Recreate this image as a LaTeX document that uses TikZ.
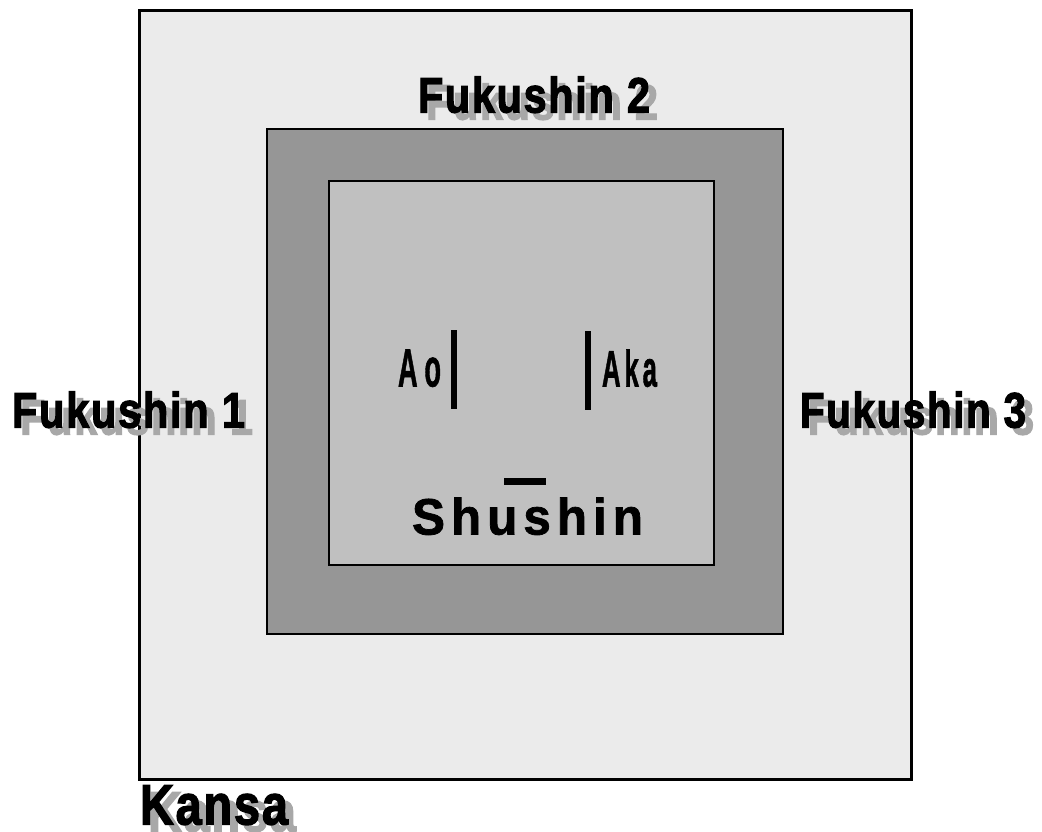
\documentclass[tikz,border=0pt]{standalone}
\usepackage{fontspec}
\setmainfont{Liberation Sans}
\newfontfamily\heavy{Liberation Sans Bold}[FakeBold=2.5,LetterSpace=4]
\newfontfamily\heavyplain{Liberation Sans Bold}[FakeBold=1.5]
\usepackage{graphicx}
\definecolor{outerfill}{HTML}{EBEBEB}
\definecolor{midfill}{HTML}{969696}
\definecolor{innerfill}{HTML}{C0C0C0}
\definecolor{shadowgray}{HTML}{A8A8A8}
\tikzset{
  lbl/.style={inner sep=0pt, outer sep=0pt, anchor=south west},
  shd/.style={lbl, text=shadowgray},
  bar/.style={line width=6pt},
}
\newcommand{\fittext}[3]{\resizebox{#1pt}{#2pt}{\heavy #3}}
\newcommand{\fitplain}[3]{\resizebox{#1pt}{#2pt}{\heavyplain #3}}
\begin{document}
\begin{tikzpicture}[x=1pt,y=-1pt]
\useasboundingbox (0,0) rectangle (1042,831);
\fill[white] (0,0) rectangle (1042,831);
% boxes
\draw[line width=3pt, fill=outerfill] (139,10) rectangle (911,779);
\draw[line width=2.5pt, fill=midfill] (267,129) rectangle (783,634);
\draw[line width=1.3pt, fill=innerfill] (329,181) rectangle (714,565);
% Fukushin 2
\node[shd] (f2s) at (426,120) {\fittext{232}{36}{Fukushin 2}};
\node[lbl] (f2) at (418,113) {\fittext{232}{36}{Fukushin 2}};
% Fukushin 1
\node[shd] (f1s) at (20,435) {\fittext{233}{36}{Fukushin 1}};
\node[lbl] (f1) at (12,428) {\fittext{233}{36}{Fukushin 1}};
% Fukushin 3
\node[shd] (f3s) at (808,435) {\fittext{226}{36}{Fukushin 3}};
\node[lbl] (f3) at (800,428) {\fittext{226}{36}{Fukushin 3}};
% Kansa
\node[shd] (ks) at (148,832) {\fittext{148}{39}{Kansa}};
\node[lbl] (k) at (140,825) {\fittext{148}{39}{Kansa}};
% Ao / Aka
\node[lbl] (ao) at (398,387) {\fitplain{43}{37}{A\hspace{0.25em}o}};
\node[lbl] (aka) at (602,387) {\fitplain{55}{37}{A\hspace{0.15em}k\hspace{0.15em}a}};
\coordinate (aoT) at (454,330);
\coordinate (aoB) at (454,409);
\coordinate (akT) at (588,331);
\coordinate (akB) at (588,410);
\draw[bar] (aoT) -- (aoB);
\draw[bar] (akT) -- (akB);
% Shushin
\coordinate (sbL) at (504,481);
\coordinate (sbR) at (546,481);
\draw[line width=7pt] (sbL) -- (sbR);
\node[lbl] (sh) at (412,535) {\fitplain{231}{37}{S\hspace{0.12em}h\hspace{0.12em}u\hspace{0.12em}s\hspace{0.12em}h\hspace{0.12em}i\hspace{0.12em}n}};
\end{tikzpicture}
\end{document}
